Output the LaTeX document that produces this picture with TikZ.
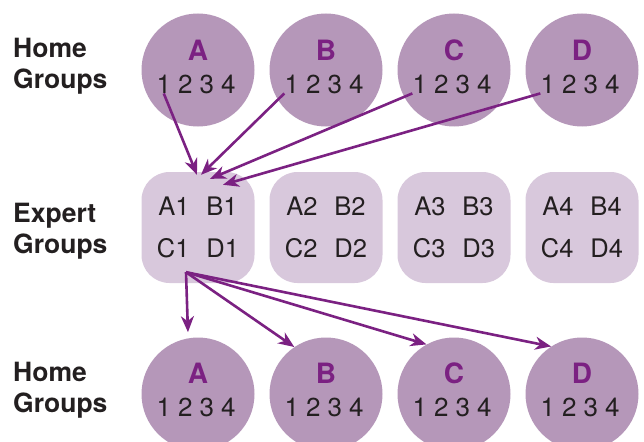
\documentclass[tikz,border=0pt]{standalone}
\usepackage{fontspec}
\setmainfont{TeX Gyre Heros}
\usetikzlibrary{arrows.meta,calc}
\definecolor{homefill}{HTML}{B597B9}
\definecolor{expfill}{HTML}{D8C8DC}
\definecolor{plum}{HTML}{7B2182}
\definecolor{ink}{HTML}{231F20}

\begin{document}
\begin{tikzpicture}[x=1pt, y=-1pt,
  >={Stealth[length=16pt, width=13pt, inset=5pt]},
  rowlbl/.style={anchor=west, align=left, text=ink, inner sep=0pt,
    font=\fontsize{26.5}{31}\selectfont\bfseries},
  homec/.style={circle, fill=homefill, minimum size=113pt, inner sep=0pt},
  grp/.style={text=plum, inner sep=0pt, font=\fontsize{28}{28}\selectfont\bfseries},
  digit/.style={text=ink, inner sep=0pt, font=\fontsize{26}{26}\selectfont},
  expbox/.style={rounded corners=28pt, fill=expfill, minimum width=113pt,
    minimum height=111pt, align=center, text=ink,
    font=\fontsize{25.5}{42}\selectfont},
  flow/.style={->, line width=2.6pt, plum},
]
\useasboundingbox (0,0) rectangle (644,441);

\def\ty{70}
\def\my{227.5}
\def\by{394}

% ---------- row labels ----------
\node[rowlbl] (lbltop) at (13,66) {Home\\Groups};
\node[rowlbl] (lblmid) at (13,231) {Expert\\Groups};
\node[rowlbl] (lblbot) at (13,390) {Home\\Groups};

% ---------- home groups, top ----------
\foreach \g [count=\i from 0] in {A,B,C,D} {
  \node[homec] (h\g) at ({198+128*\i}, \ty) {};
  \node[grp] (h\g-l) at ({198+128*\i}, \ty-20) {\g};
  \foreach \d in {1,...,4}
    \node[digit] (t\g\d) at ({196+128*\i+(\d-2.5)*21.5}, \ty+14) {\d};
}

% ---------- expert groups ----------
\foreach \n in {1,...,4}
  \node[expbox] (e\n) at ({198+128*(\n-1)}, \my)
    {A\n\hspace{17pt}B\n\\C\n\hspace{17pt}D\n};

% ---------- home groups, bottom ----------
\foreach \g [count=\i from 0] in {A,B,C,D} {
  \node[homec] (b\g) at ({198+128*\i}, \by) {};
  \node[grp] (b\g-l) at ({198+128*\i}, \by-21) {\g};
  \foreach \d in {1,...,4}
    \node[digit] (u\g\d) at ({196+128*\i+(\d-2.5)*21.5}, \by+13) {\d};
}

% ---------- members 1 gather in expert group 1 ----------
\coordinate (inA) at ($(e1.north)+(-1,3)$);
\coordinate (inB) at ($(e1.north)+(3,3)$);
\coordinate (inC) at ($(e1.north)+(12,7)$);
\coordinate (inD) at ($(e1.north)+(25,13)$);
\draw[flow] (tA1.south) -- (inA);
\draw[flow] (tB1.south west) -- (inB);
\draw[flow] (tC1.south west) -- (inC);
\draw[flow] (tD1.south west) -- (inD);

% ---------- and go back to every home group ----------
\coordinate (out1) at ($(e1.south)+(-12,-11)$);
\draw[flow, shorten >=6pt] (out1) -- (bA.100);
\draw[flow] (out1) -- (bB.124);
\draw[flow] (out1) -- (bC.119);
\draw[flow] (out1) -- (bD.123);

\end{tikzpicture}
\end{document}
